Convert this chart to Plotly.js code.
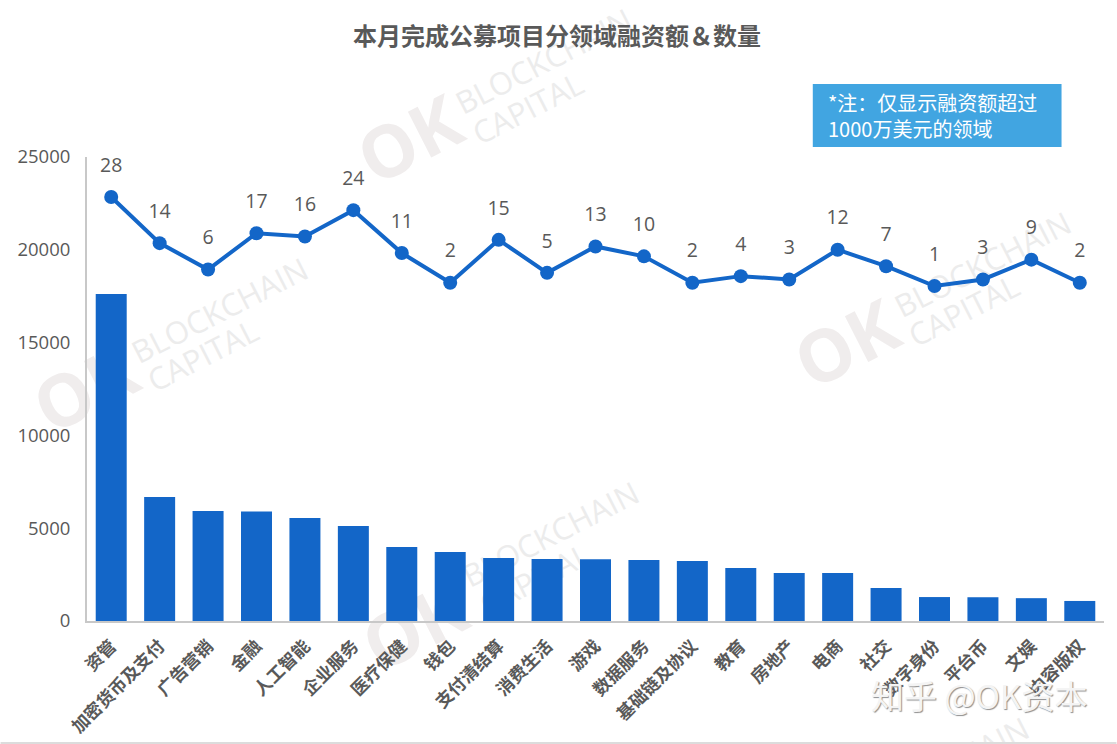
<!DOCTYPE html>
<html>
<head>
<meta charset="utf-8">
<script src="https://cdn.plot.ly/plotly-3.0.1.min.js"></script>
<style>html,body{margin:0;padding:0;background:#fff;overflow:hidden}#chart{width:1117px;height:744px}</style>
</head>
<body>
<div id="chart"></div>
<script>
const categories = ['资管','加密货币及支付','广告营销','金融','人工智能','企业服务','医疗保健','钱包','支付清结算','消费生活','游戏','数据服务','基础链及协议','教育','房地产','电商','社交','数字身份','平台币','文娱','内容版权'];
const fundingAmounts = [17620,6680,5930,5900,5550,5120,3990,3720,3390,3340,3330,3290,3230,2860,2590,2580,1780,1290,1280,1230,1080];
const projectCounts = [28,14,6,17,16,24,11,2,15,5,13,10,2,4,3,12,7,1,3,9,2];
const amountTicks = [0,5000,10000,15000,20000,25000];

const W = 1117, H = 744, L = 86.5, R = 1104.5, T = 157, B = 621;
const px = x => (x - L) / (R - L);
const py = y => (B - y) / (B - T);
const BLUE = '#1366c8', GREY = '#595959', WMK = '#f0eded', WMT = '#ececec';
const CN = '"Noto Sans CJK SC","Noto Sans",sans-serif';
const LAT = '"Open Sans","Noto Sans",sans-serif';

function note(text, x, y, size, color, extra) {
  return Object.assign({text, xref:'paper', yref:'paper', x:px(x), y:py(y), showarrow:false,
    xanchor:'center', yanchor:'middle', font:{family:LAT, size, color}}, extra || {});
}
function mark(okX, okY, bcX, bcY, capX, capY) {
  return [
    note('<b>OK</b>', okX, okY, 72, WMK, {textangle:-27}),
    note('BLOCKCHAIN', bcX, bcY, 31, WMT, {textangle:-27}),
    note('CAPITAL', capX, capY, 31, WMT, {textangle:-27})
  ];
}
const watermarks = [].concat(
  mark(408,138, 543,61, 527,108),
  mark(84,387, 219,310, 202,355),
  mark(846,342, 983,264, 964,310),
  mark(413,625, 550,534, 534,579),
  [note('BLOCKCHAIN', 941, 769, 31, WMT, {textangle:-27})]
);
const overlays = [
  note('*注：仅显示融资额超过<br>1000万美元的领域', 826, 115, 20, '#ffffff', {xanchor:'left', align:'left', font:{family:CN,size:20,color:'#ffffff'}}),
  note('知乎 @OK资本', 979, 695, 33, '#ffffff', {font:{family:CN,size:33,color:'#f4f4f4',shadow:'1px 1px 1px #8f8f8f'}})
];

const data = [
  {type:'bar', x:categories, y:fundingAmounts, marker:{color:BLUE}, width:0.64, hoverinfo:'x+y'},
  {type:'scatter', mode:'lines+markers', x:categories, y:projectCounts, yaxis:'y2',
   line:{color:BLUE,width:4}, marker:{color:BLUE,size:14}, hoverinfo:'x+y'},
  {type:'scatter', mode:'markers+text', x:categories, y:projectCounts, yaxis:'y2',
   text:projectCounts.map(String), textposition:'top center', cliponaxis:false,
   textfont:{family:LAT,size:19.5,color:GREY},
   marker:{size:31,opacity:0}, hoverinfo:'skip'}
];

const layout = {
  width:W, height:H, showlegend:false, paper_bgcolor:'#ffffff', plot_bgcolor:'rgba(0,0,0,0)',
  margin:{l:L, r:W-R, t:T, b:H-B, pad:0},
  title:{text:'<b>本月完成公募项目分领域融资额＆数量</b>', x:557/W, xref:'container', xanchor:'center',
         y:1-37/H, yref:'container', yanchor:'middle', font:{family:CN,size:24,color:GREY}},
  xaxis:{type:'category', range:[-0.5,20.5], tickangle:-45, showline:true, linecolor:'#c8c8c8', linewidth:2,
         showgrid:false, zeroline:false, ticks:'', tickfont:{family:CN,size:17.5,weight:700,color:GREY}, ticklabelstandoff:6},
  yaxis:{range:[0,25000], tickvals:amountTicks, ticktext:amountTicks.map(String), showgrid:false, zeroline:false,
         showline:true, linecolor:'#c8c8c8', linewidth:2,
         ticks:'', tickfont:{family:LAT,size:18.5,color:GREY}, ticklabelstandoff:11},
  yaxis2:{overlaying:'y', side:'right', visible:false, range:[-100.5,40.1]},
  bargap:0.36,
  shapes:[
    {type:'rect', xref:'paper', yref:'paper', x0:px(813), x1:px(1062), y0:py(147), y1:py(84), fillcolor:'#41a5e1', line:{width:0}, layer:'above'},
    {type:'line', xref:'paper', yref:'paper', x0:px(0), x1:px(W), y0:py(743), y1:py(743), line:{color:'#dcdcdc',width:2}, layer:'above'}
  ],
  annotations: watermarks.concat(overlays)
};

Plotly.newPlot('chart', data, layout, {displayModeBar:false, responsive:false}).then(gd => {
  // Watermarks sit behind the bars in the reference.
  const below = gd.querySelector('.layer-below');
  const notes = Array.from(gd.querySelectorAll('.infolayer .annotation'));
  notes.slice(0, watermarks.length).forEach(n => below.appendChild(n));
});
</script>
</body>
</html>
